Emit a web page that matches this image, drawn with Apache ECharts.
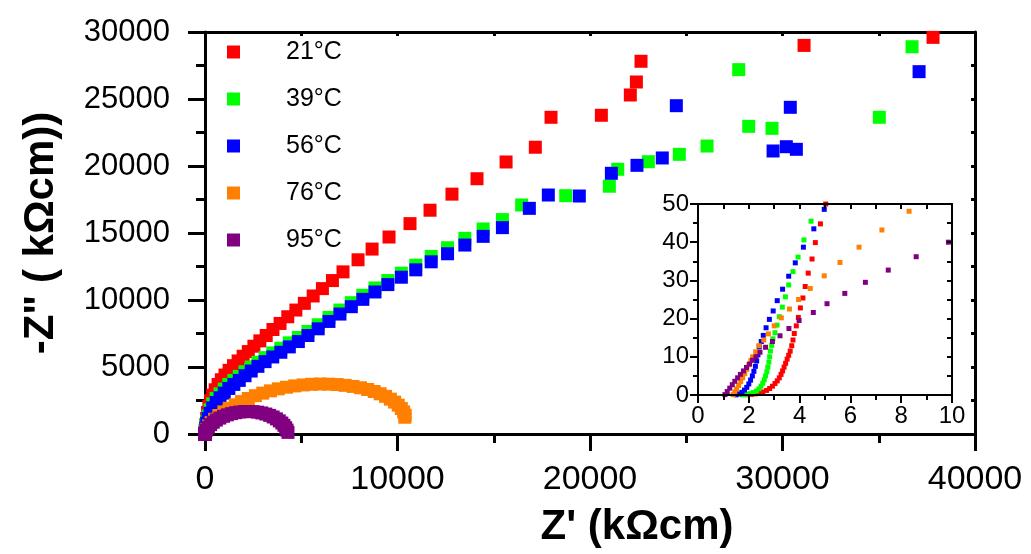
<!DOCTYPE html>
<html><head><meta charset="utf-8">
<script src="https://cdn.jsdelivr.net/npm/echarts@6/dist/echarts.min.js"></script>
<style>html,body{margin:0;padding:0;background:#fff}#c{width:1031px;height:554px}</style>
</head><body><div id="c"></div>
<script>
const seriesNames = ['21°C', '39°C', '56°C', '76°C', '95°C'];
const seriesColors = ['#ff0000', '#00ff00', '#0000ff', '#ff8000', '#800080'];

// Z' , -Z''  (kΩcm) ; first part = high-frequency points seen in inset
const d21 = [
  [1.95,0.05],[2.1,0.15],[2.25,0.3],[2.4,0.5],[2.55,0.8],[2.7,1.2],[2.82,1.7],[2.93,2.3],[3.03,3.0],[3.12,3.7],[3.2,4.5],[3.27,5.4],[3.33,6.3],[3.39,7.3],[3.45,8.3],[3.51,9.4],[3.57,10.4],[3.63,11.5],[3.69,12.9],[3.74,14.4],[3.79,16.1],[3.87,18.1],[3.95,20.3],[4.03,22.8],[4.13,25.4],[4.22,28.4],[4.34,31.9],[4.49,35.6],[4.62,39.9],[4.82,44.8],[5.03,50.0],
  [15,300],[40,700],[80,1150],[130,1600],[200,2050],[290,2500],[400,2900],[530,3300],[680,3700],[850,4050],[1040,4400],[1250,4750],[1480,5100],[1720,5450],[1980,5800],[2250,6150],[2540,6550],[2850,6950],[3180,7350],[3530,7800],[3900,8250],[4300,8750],[4720,9250],[5160,9750],[5620,10300],[6100,10850],[6620,11450],[7170,12100],[7950,13000],[8680,13800],[9560,14700],[10650,15700],[11690,16700],[12830,17900],[14130,19050],[15640,20300],[17160,21400],[17975,23635],[20590,23785],[22095,25300],[22410,26270],[22650,27815],[31120,29000],[37820,29600]
];
const d39 = [
  [1.75,0.05],[1.9,0.15],[2.05,0.35],[2.18,0.65],[2.3,1.05],[2.4,1.6],[2.48,2.3],[2.55,3.1],[2.61,4.0],[2.66,5.0],[2.71,6.1],[2.75,7.3],[2.79,8.6],[2.82,10.0],[2.85,11.5],[2.90,13.0],[2.95,14.7],[3.03,16.3],[3.11,18.3],[3.20,20.5],[3.32,23.0],[3.44,25.7],[3.57,28.8],[3.74,32.3],[3.94,36.1],[4.17,40.6],[4.45,45.5],
  [10,250],[40,600],[90,950],[160,1350],[260,1800],[400,2250],[580,2650],[780,3000],[1000,3350],[1240,3700],[1500,4000],[1780,4300],[2080,4650],[2400,5000],[2750,5350],[3120,5700],[3520,6050],[3940,6400],[4380,6800],[4850,7200],[5350,7650],[5880,8150],[6440,8700],[7010,9250],[7600,9800],[8200,10350],[8830,10900],[9500,11450],[10200,12000],[10950,12600],[11750,13250],[12600,13900],[13500,14600],[14450,15300],[15450,16000],[16450,17090],[18740,17785],[21005,18490],[21440,19755],[23030,20320],[24640,20870],[26080,21490],[28245,22960],[29455,22810],[27725,27190],[35030,23635],[36730,28900]
];
const d56 = [
  [1.5,0.05],[1.62,0.3],[1.73,0.7],[1.83,1.3],[1.92,2.0],[2.0,2.9],[2.07,3.9],[2.14,5.0],[2.2,6.2],[2.26,7.5],[2.31,8.9],[2.36,10.5],[2.41,12.6],[2.49,14.0],[2.57,15.6],[2.68,17.6],[2.81,19.8],[2.96,22.0],[3.12,24.7],[3.33,27.7],[3.57,31.1],[3.83,34.6],[4.15,38.7],[4.56,43.5],[4.97,48.6],
  [10,150],[40,450],[90,800],[160,1150],[260,1550],[400,1950],[580,2350],[780,2700],[1000,3050],[1240,3400],[1500,3700],[1780,4000],[2080,4350],[2400,4700],[2750,5050],[3120,5400],[3520,5750],[3940,6100],[4380,6500],[4850,6900],[5350,7350],[5880,7850],[6440,8400],[7010,8950],[7600,9500],[8200,10050],[8830,10600],[9500,11150],[10200,11700],[10950,12250],[11750,12850],[12600,13450],[13500,14100],[14450,14750],[15450,15400],[16850,16840],[17835,17835],[19445,17760],[21110,19455],[22440,20050],[23755,20600],[24485,24500],[29510,21120],[30200,21440],[30720,21245],[30405,24380],[37095,27040]
];
const d76 = [
  [1.38,0.1],[1.45,0.8],[1.52,1.6],[1.6,2.5],[1.68,3.5],[1.76,4.5],[1.84,5.6],[1.92,6.7],[2.0,7.9],[2.08,9.0],[2.15,10.0],[2.27,11.3],[2.40,12.9],[2.59,14.4],[2.77,16.0],[3.00,18.1],[3.28,20.2],[3.60,22.5],[3.96,25.0],[4.42,27.9],[4.97,31.2],[5.59,34.7],[6.34,38.7],[7.24,43.2],[8.31,48.1],
  [20,150],[80,350],[180,600],[320,850],[500,1100],[720,1380],[980,1650],[1260,1920],[1570,2180],[1900,2420],[2250,2650],[2620,2860],[3000,3050],[3400,3220],[3810,3370],[4230,3490],[4660,3590],[5100,3660],[5540,3710],[5980,3730],[6420,3720],[6860,3690],[7280,3630],[7690,3550],[8080,3450],[8450,3320],[8790,3170],[9100,3000],[9380,2810],[9630,2600],[9850,2380],[10040,2150],[10200,1900],[10320,1650],[10400,1400],[10380,1250]
];
const d95 = [
  [1.06,0.1],[1.15,0.9],[1.25,1.8],[1.35,2.7],[1.45,3.6],[1.56,4.5],[1.67,5.4],[1.79,6.3],[1.91,7.2],[2.03,8.1],[2.15,9.1],[2.28,10.0],[2.44,11.2],[2.66,12.5],[2.93,14.0],[3.23,15.5],[3.58,17.4],[3.98,19.5],[4.54,21.6],[5.08,23.9],[5.78,26.6],[6.59,29.5],[7.49,32.7],[8.59,36.2],[9.86,40.0],
  [20,100],[80,300],[170,500],[290,700],[430,880],[590,1040],[770,1190],[960,1320],[1160,1430],[1370,1520],[1590,1590],[1810,1640],[2040,1670],[2270,1680],[2500,1670],[2730,1630],[2950,1570],[3160,1490],[3360,1390],[3540,1270],[3710,1130],[3860,980],[3990,820],[4100,650],[4190,470],[4260,290],[4310,120]
];
const allData = [d21, d39, d56, d76, d95];

const mainX = {min: 0, max: 40000, step: 10000};
const mainY = {min: 0, max: 30000, step: 5000};
const insetX = {min: 0, max: 10, step: 2};
const insetY = {min: 0, max: 50, step: 10};

const FONT = '"Liberation Sans", Arial, sans-serif';
const black = '#000';
const plain = v => String(v);

// axis carrying line + labels (no ticks)
function labelAxis(grid, pos, rng, step, lineW, label, extra) {
  return Object.assign({
    gridIndex: grid, type: 'value', position: pos, min: rng.min, max: rng.max, interval: step,
    axisLine: {show: true, onZero: false, lineStyle: {color: black, width: lineW}},
    axisTick: {show: false}, minorTick: {show: false},
    axisLabel: label ? Object.assign({color: black, fontFamily: FONT, formatter: plain}, label) : {show: false},
    splitLine: {show: false}, minorSplitLine: {show: false}
  }, extra || {});
}
// axis carrying only ticks (no line, no labels)
function tickAxis(grid, pos, rng, step, w, len, minorLen, inside, extra) {
  const o = {
    gridIndex: grid, type: 'value', position: pos, min: rng.min, max: rng.max, interval: step,
    axisLine: {show: false, onZero: false},
    axisTick: {show: true, inside: inside, length: len, lineStyle: {color: black, width: w}},
    axisLabel: {show: false},
    splitLine: {show: false}, minorSplitLine: {show: false}
  };
  if (minorLen) o.minorTick = {show: true, splitNumber: 2, length: minorLen, lineStyle: {color: black, width: w}};
  return Object.assign(o, extra || {});
}

const chart = echarts.init(document.getElementById('c'), null, {renderer: 'canvas'});

const series = [];
allData.forEach((d, i) => {
  series.push({
    name: seriesNames[i], type: 'scatter', xAxisIndex: 0, yAxisIndex: 0,
    data: d, symbol: 'rect', symbolSize: 13,
    itemStyle: {color: seriesColors[i], opacity: 1}, clip: true, z: 3
  });
});
allData.forEach((d, i) => {
  series.push({
    name: seriesNames[i], type: 'scatter', xAxisIndex: 3, yAxisIndex: 3,
    data: d, symbol: 'rect', symbolSize: 5,
    itemStyle: {color: seriesColors[i], opacity: 1}, clip: true, z: 5
  });
});

chart.setOption({
  animation: false,
  backgroundColor: '#fff',
  textStyle: {fontFamily: FONT, color: black},
  legend: {
    data: seriesNames, orient: 'vertical', left: 222, top: 34,
    icon: 'rect', itemWidth: 13, itemHeight: 13, itemGap: 21,
    textStyle: {fontSize: 25, color: black, fontFamily: FONT, lineHeight: 26, padding: [0, 0, 0, 41]},
    selectedMode: false
  },
  grid: [
    {left: 205, top: 32, right: 56, bottom: 120, show: false},
    {left: 698, top: 204, right: 79, bottom: 159, show: true, backgroundColor: '#fff', borderWidth: 0, z: 4}
  ],
  xAxis: [
    labelAxis(0, 'bottom', mainX, mainX.step, 3, {fontSize: 34, margin: 29}, {
      name: "Z' (kΩcm)", nameLocation: 'middle', nameGap: 72,
      nameTextStyle: {fontSize: 42, fontWeight: 'bold', color: black, fontFamily: FONT, padding: [0, 0, 0, 94]}}),
    tickAxis(0, 'top', mainX, 5000, 3, 4, 0, true, {axisLine: {show: true, onZero: false, lineStyle: {color: black, width: 3}}}),
    tickAxis(0, 'bottom', mainX, mainX.step, 3, 17, 9, false),
    labelAxis(1, 'bottom', insetX, insetX.step, 2, {fontSize: 24, margin: 9}, {z: 6}),
    tickAxis(1, 'top', insetX, 1, 2, 5, 0, true, {z: 6, axisLine: {show: true, onZero: false, lineStyle: {color: black, width: 2}}}),
    tickAxis(1, 'bottom', insetX, insetX.step, 2, 8, 5, false, {z: 6})
  ],
  yAxis: [
    labelAxis(0, 'left', mainY, mainY.step, 3, {fontSize: 31, margin: 35}, {
      name: '-Z" ( kΩcm))', nameLocation: 'middle', nameGap: 143,
      nameTextStyle: {fontSize: 42, fontWeight: 'bold', color: black, fontFamily: FONT}}),
    tickAxis(0, 'right', mainY, 2500, 3, 4, 0, true, {axisLine: {show: true, onZero: false, lineStyle: {color: black, width: 3}}}),
    tickAxis(0, 'left', mainY, mainY.step, 3, 17, 9, false),
    labelAxis(1, 'left', insetY, insetY.step, 2, {fontSize: 24, margin: 9}, {z: 6}),
    tickAxis(1, 'right', insetY, 5, 2, 5, 0, true, {z: 6, axisLine: {show: true, onZero: false, lineStyle: {color: black, width: 2}}}),
    tickAxis(1, 'left', insetY, insetY.step, 2, 8, 5, false, {z: 6})
  ],
  series: series
});
</script>
</body></html>
